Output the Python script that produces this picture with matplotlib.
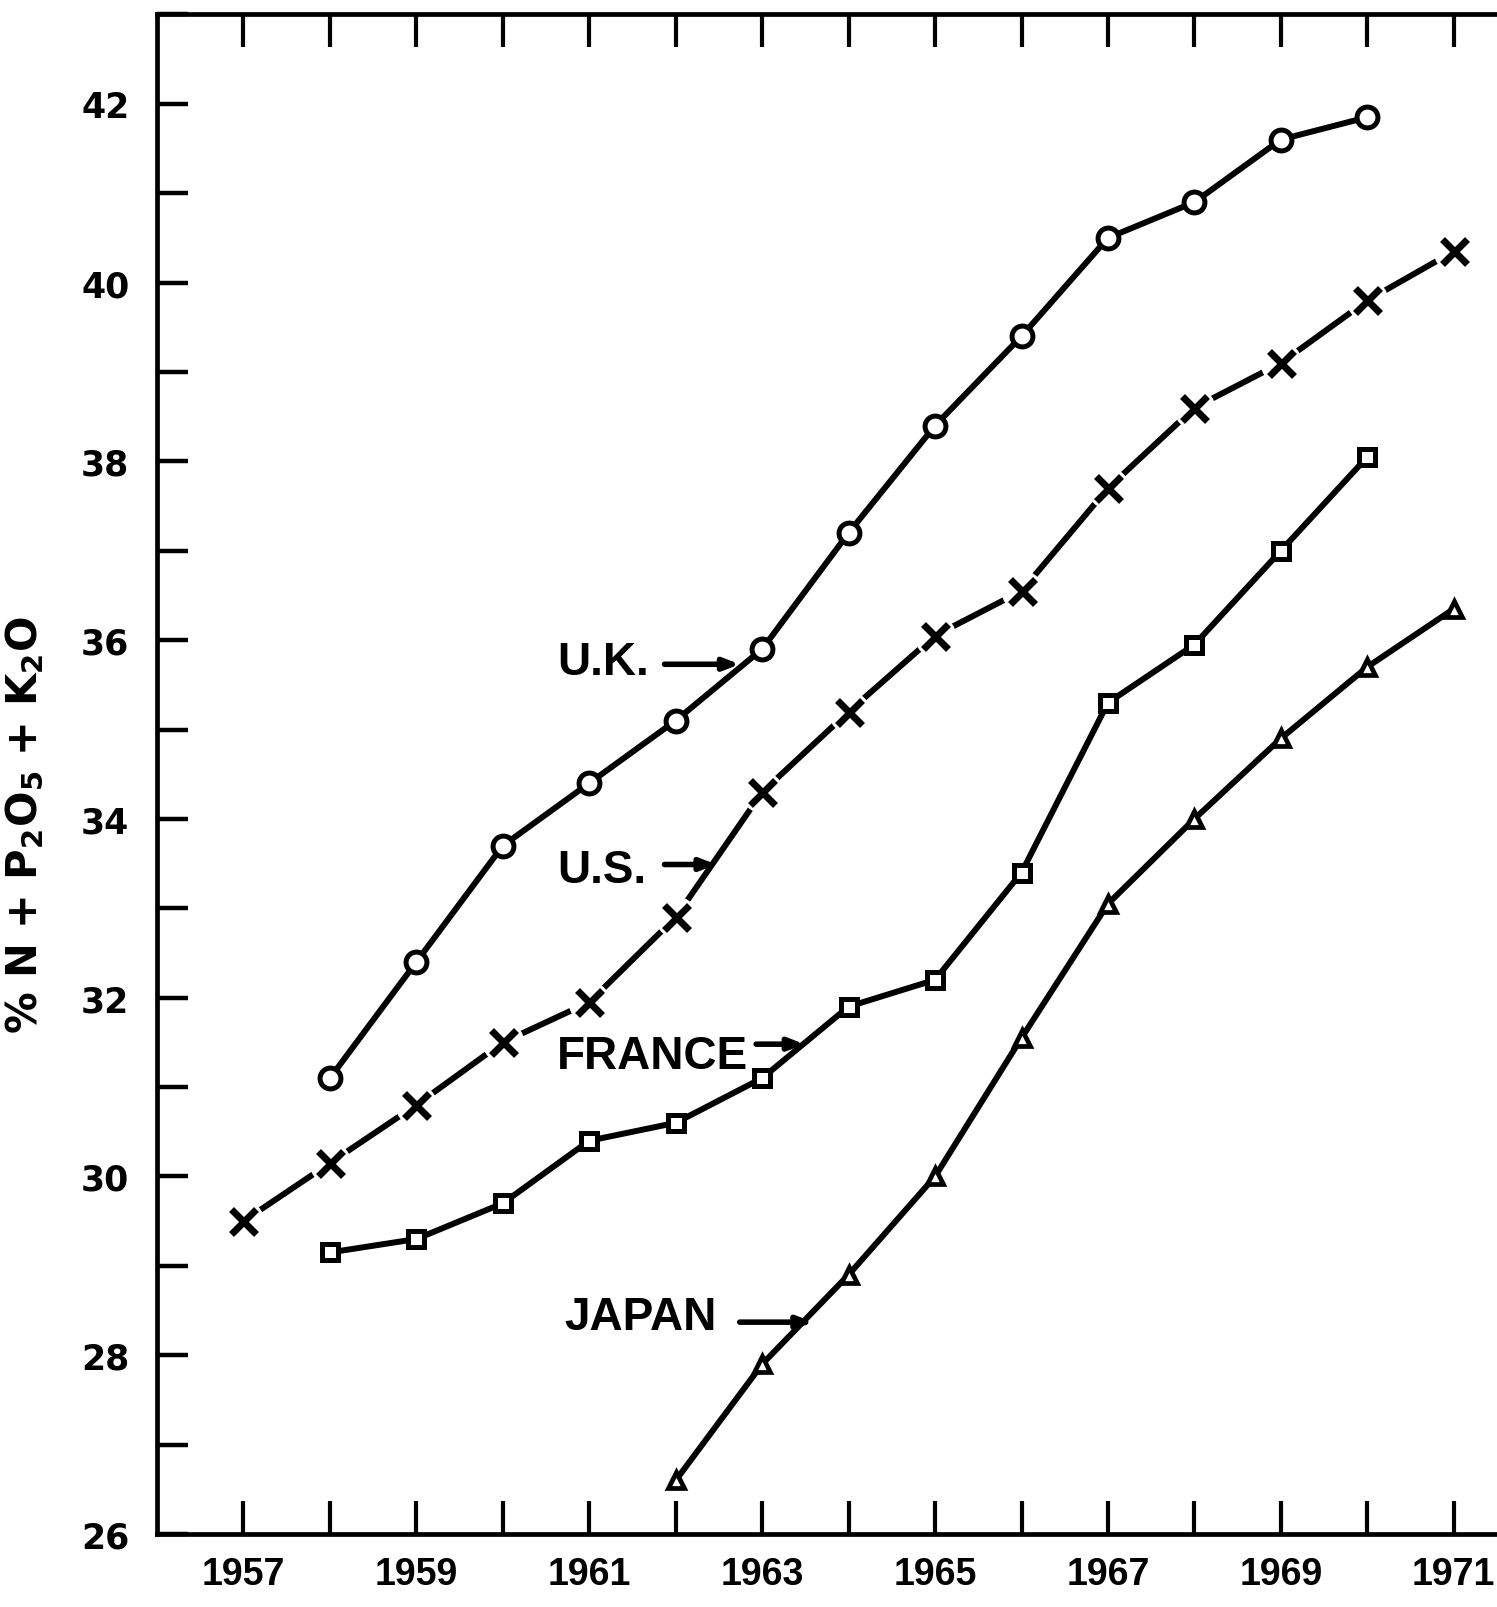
import matplotlib
matplotlib.use("Agg")
import matplotlib.pyplot as plt

plt.rcParams['font.family'] = ['DejaVu Sans']
plt.rcParams['font.weight'] = 'bold'
plt.rcParams['mathtext.default'] = 'bf'

NARROW = ['Liberation Sans Narrow', 'Liberation Sans', 'DejaVu Sans']

# Fertilizer nutrient content (% N + P2O5 + K2O) by year
uk_years = [1958, 1959, 1960, 1961, 1962, 1963, 1964, 1965, 1966, 1967, 1968, 1969, 1970]
uk_vals = [31.1, 32.4, 33.7, 34.4, 35.1, 35.9, 37.2, 38.4, 39.4, 40.5, 40.9, 41.6, 41.85]

us_years = [1957, 1958, 1959, 1960, 1961, 1962, 1963, 1964, 1965, 1966, 1967, 1968, 1969, 1970, 1971]
us_vals = [29.5, 30.15, 30.8, 31.5, 31.95, 32.9, 34.3, 35.2, 36.05, 36.55, 37.7, 38.6, 39.1, 39.8, 40.35]

fr_years = [1958, 1959, 1960, 1961, 1962, 1963, 1964, 1965, 1966, 1967, 1968, 1969, 1970]
fr_vals = [29.15, 29.3, 29.7, 30.4, 30.6, 31.1, 31.9, 32.2, 33.4, 35.3, 35.95, 37.0, 38.05]

jp_years = [1962, 1963, 1964, 1965, 1966, 1967, 1968, 1969, 1970, 1971]
jp_vals = [26.6, 27.9, 28.9, 30.0, 31.55, 33.05, 34.0, 34.9, 35.7, 36.35]

year_ticks = list(range(1957, 1972))
year_labels = ['1957', '1959', '1961', '1963', '1965', '1967', '1969', '1971']
y_ticks = list(range(26, 44))
y_labels = [26, 28, 30, 32, 34, 36, 38, 40, 42]

fig = plt.figure(figsize=(14.97, 16.08), dpi=100)
ax = fig.add_axes([0.1049, 0.0454, 0.8951, 0.945])
ax.set_xlim(1956, 1971.5)
ax.set_ylim(26, 43)

lw = 4.3

# U.K. - open circles
ax.plot(uk_years, uk_vals, color='black', lw=lw, marker='o', ms=15,
        mfc='white', mec='black', mew=3.6, zorder=3)

# U.S. - crosses, line broken around each marker
ax.plot(us_years, us_vals, color='black', lw=lw, zorder=2)
ax.plot(us_years, us_vals, ls='none', marker='o', ms=30, mfc='white',
        mec='none', zorder=3)
ax.plot(us_years, us_vals, ls='none', marker='x', ms=18, mec='black',
        mew=5.0, zorder=4)

# France - open squares
ax.plot(fr_years, fr_vals, color='black', lw=lw, marker='s', ms=11.5,
        mfc='white', mec='black', mew=3.6, zorder=3)

# Japan - open triangles
ax.plot(jp_years, jp_vals, color='black', lw=lw, marker='^', ms=12,
        mfc='white', mec='black', mew=3.4, zorder=3)

# Series labels with arrows
label_fs = 33
arrow_kw = dict(arrowstyle='-|>,head_length=0.9,head_width=0.35', color='black',
                lw=4.0, shrinkA=0, shrinkB=0)
labels = [
    ('U.K.', 1960.63, 35.76, (1961.87, 35.73), (1962.74, 35.73)),
    ('U.S.', 1960.63, 33.43, (1961.87, 33.49), (1962.47, 33.49)),
    ('FRANCE', 1960.63, 31.35, (1962.93, 31.48), (1963.49, 31.48)),
    ('JAPAN', 1960.71, 28.43, (1962.74, 28.37), (1963.59, 28.37)),
]
for txt, tx, ty, a0, a1 in labels:
    ax.text(tx, ty, txt, ha='left', va='center', fontsize=label_fs,
            fontweight='bold', family=NARROW, zorder=5)
    ax.annotate('', xy=a1, xytext=a0, arrowprops=arrow_kw, zorder=5)

# Axes styling
for side in ('left', 'bottom', 'top'):
    ax.spines[side].set_linewidth(3.4)
ax.spines['right'].set_visible(False)

ax.set_xticks(year_ticks)
ax.set_xticklabels([str(y) if str(y) in year_labels else '' for y in year_ticks])
ax.set_yticks(y_ticks)
ax.set_yticklabels([str(v) if v in y_labels else '' for v in y_ticks])
ax.tick_params(axis='x', which='major', direction='in', length=24, width=3.0,
               top=True, bottom=True, labelsize=27, pad=16)
ax.tick_params(axis='y', which='major', direction='in', length=22, width=3.2,
               left=True, right=False, labelsize=25, pad=20)
for lab in ax.get_xticklabels():
    lab.set_fontweight('bold')
    lab.set_family(NARROW)
for lab in ax.get_yticklabels():
    lab.set_fontweight('bold')

ax.set_ylabel(r'% N + P$_2$O$_5$ + K$_2$O', fontsize=30, fontweight='bold')
ax.yaxis.set_label_coords(-0.083, 0.467)

fig.savefig('out.png', dpi=100, facecolor='white')
